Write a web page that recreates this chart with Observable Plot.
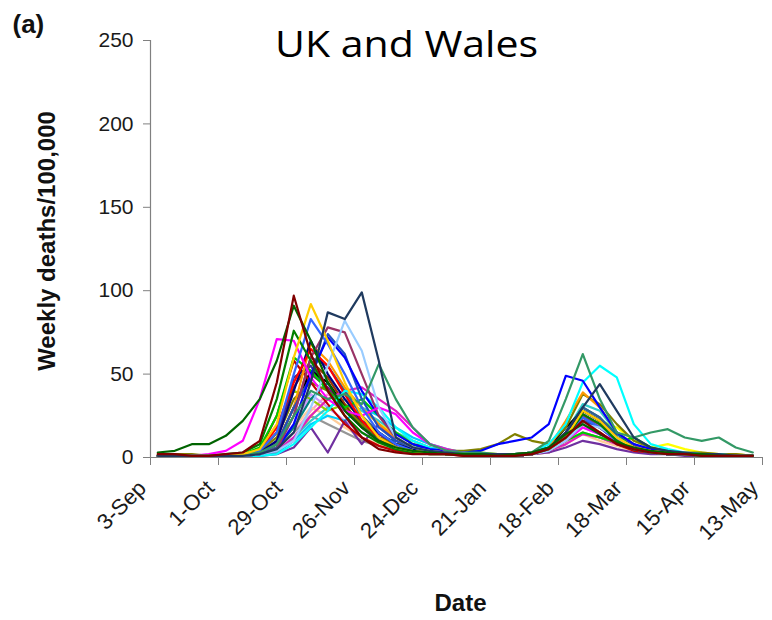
<!DOCTYPE html>
<html>
<head>
<meta charset="utf-8">
<script src="https://cdn.jsdelivr.net/npm/d3@7"></script>
<script src="https://cdn.jsdelivr.net/npm/@observablehq/plot@0.6"></script>
<style>
  body { margin: 0; background: #fff; }
</style>
</head>
<body>
<div id="chart"></div>
<script>
// Weekly data points (1918-1919)
const weeks = [
  "1918-09-06","1918-09-13","1918-09-20","1918-09-27","1918-10-04","1918-10-11",
  "1918-10-18","1918-10-25","1918-11-01","1918-11-08","1918-11-15","1918-11-22",
  "1918-11-29","1918-12-06","1918-12-13","1918-12-20","1918-12-27","1919-01-03",
  "1919-01-10","1919-01-17","1919-01-24","1919-01-31","1919-02-07","1919-02-14",
  "1919-02-21","1919-02-28","1919-03-07","1919-03-14","1919-03-21","1919-03-28",
  "1919-04-04","1919-04-11","1919-04-18","1919-04-25","1919-05-02","1919-05-09"
];

// Axis ticks
const tickDates = ["1918-09-03","1918-10-01","1918-10-29","1918-11-26","1918-12-24",
  "1919-01-21","1919-02-18","1919-03-18","1919-04-15","1919-05-13"];
const tickLabels = ["3-Sep","1-Oct","29-Oct","26-Nov","24-Dec","21-Jan","18-Feb","18-Mar","15-Apr","13-May"];
const yTicks = [0, 50, 100, 150, 200, 250];

// Series (one line per area)
const seriesNames = ["A","B","C","D","E","F","G","H","I","J","K","L","M","N","O","P","Q","R",
  "S","T","U","V","W","X","Y","Z","AA","AB","AC","AD","AE","AF","AG","AH","AI"];
const seriesColors = ["#FF99CC","#969696","#FFCC99","#CC99FF","#FFFF00","#00CCFF","#33CCCC","#99CC00",
  "#008080","#800080","#7030A0","#993300","#333399","#000000","#E020C0","#808000","#366092","#C00000",
  "#00CC00","#FF9900","#000080","#FF0000","#00FFFF","#2050C0","#0000FF","#993366","#FF00FF","#3366FF",
  "#99CCFF","#339966","#008000","#FFCC00","#1F3A5F","#006400","#800000"];

const sA  = [1,1,1,1,1,1,2,5,15,28,38,30,22,18,14,10,6,4,3,2,2,1,2,3,8,15,12,8,5,3,2,2,1,1,1,1];
const sB  = [1,1,1,1,1,1,2,5,15,25,20,15,10,7,5,4,3,2,2,2,1,1,2,3,8,15,12,8,5,3,2,2,1,1,1,1];
const sC  = [1,1,1,1,1,1,2,6,18,30,25,18,12,8,5,4,3,2,2,1,1,1,2,3,8,14,10,7,4,3,2,2,1,1,1,1];
const sD  = [1,1,1,1,1,1,2,6,20,38,30,22,15,10,6,4,3,2,2,1,1,1,2,4,10,18,14,8,5,3,2,2,1,1,1,1];
const sE  = [1,1,1,1,1,1,2,4,10,25,35,40,30,20,15,10,6,4,3,3,2,2,2,4,10,20,22,18,10,6,8,5,3,2,2,1];
const sF  = [1,1,1,1,1,1,1,3,10,20,25,22,30,25,18,12,8,5,3,2,2,1,2,5,12,25,20,12,6,3,2,2,1,1,1,1];
const sG  = [1,1,1,1,1,1,1,3,12,22,30,35,28,22,15,10,6,4,3,2,2,2,3,6,15,32,28,15,8,4,3,2,2,1,1,1];
const sH  = [1,1,1,1,1,2,4,15,40,35,28,32,25,15,8,5,3,2,2,1,1,1,2,4,10,22,18,12,6,4,2,2,1,1,1,1];
const sI  = [1,1,1,1,1,1,2,6,18,35,45,30,18,12,10,6,4,3,2,2,1,1,2,5,15,30,24,14,7,4,3,2,2,1,1,1];
const sJ  = [1,1,1,1,1,1,2,8,30,50,42,30,22,14,8,5,3,2,2,1,1,1,2,5,15,26,20,10,5,3,2,2,1,1,1,1];
const sK  = [1,1,1,1,1,1,1,2,6,18,3,22,8,20,10,6,4,3,2,2,1,1,2,3,6,10,8,5,3,2,2,1,1,1,1,1];
const sL  = [1,1,1,1,1,1,3,15,42,58,48,32,18,10,6,4,3,2,2,2,1,1,2,5,12,24,18,10,6,3,2,2,1,1,1,1];
const sM  = [1,1,1,1,1,1,2,10,48,55,40,28,18,10,6,4,3,2,2,1,1,1,2,5,12,25,20,10,5,3,2,2,1,1,1,1];
const sN  = [1,1,1,1,1,1,2,8,30,52,45,30,20,12,6,4,3,2,2,1,1,1,2,6,18,28,22,12,6,3,2,2,1,1,1,1];
const sO  = [1,1,1,1,1,1,2,4,12,25,35,40,42,35,28,18,8,5,3,2,2,1,2,4,8,14,12,8,5,3,2,2,1,1,1,1];
const sP  = [2,2,2,1,1,2,4,12,35,45,40,30,20,12,8,8,6,4,4,5,8,14,10,8,18,38,32,20,10,6,4,3,3,2,2,1];
const sQ  = [1,1,1,1,1,1,2,6,25,60,55,40,25,15,8,5,3,2,2,1,1,1,2,5,14,30,24,12,6,3,2,2,1,1,1,1];
const sR  = [1,1,1,1,1,2,5,25,58,45,32,20,12,7,4,3,2,2,1,1,1,1,2,4,10,20,15,8,4,3,2,2,1,1,1,1];
const sS  = [1,1,1,1,1,2,6,25,60,52,40,30,35,25,15,8,4,3,2,2,1,1,2,4,10,15,12,9,12,6,3,2,1,1,1,1];
const sT  = [1,1,1,1,1,1,2,8,30,68,58,42,30,20,12,6,4,3,2,2,1,1,2,6,22,39,30,15,8,4,3,2,2,1,1,1];
const sU  = [1,1,1,1,1,1,3,10,40,70,50,35,22,15,8,5,3,2,2,1,1,1,2,4,15,28,22,12,6,3,2,2,1,1,1,1];
const sV  = [1,1,1,1,1,2,4,18,45,65,55,38,22,12,6,4,3,2,2,1,1,1,2,5,12,22,18,10,5,3,2,2,1,1,1,1];
const sW  = [1,1,1,1,1,1,1,2,8,18,28,40,38,30,18,10,6,4,3,2,2,2,3,8,20,45,55,48,20,8,5,3,2,2,1,1];
const sX  = [1,1,1,1,1,1,2,8,30,48,74,62,35,18,10,6,4,3,2,2,1,1,2,4,12,22,18,10,5,3,2,2,1,1,1,1];
const sY  = [1,1,1,1,1,1,2,5,20,50,72,60,40,25,14,8,5,4,3,4,8,10,12,20,49,46,30,15,8,5,3,2,2,1,1,1];
const sZ  = [1,1,1,1,1,1,2,5,25,60,78,75,50,25,12,6,4,3,2,2,1,1,2,4,12,25,20,12,6,3,2,2,1,1,1,1];
const sAA = [1,1,1,2,4,10,35,71,70,48,35,28,25,30,26,15,8,4,3,2,1,1,2,4,10,18,14,10,6,4,3,2,2,1,1,1];
const sAB = [1,1,1,1,1,2,4,15,50,83,68,50,30,15,8,4,3,2,2,1,1,2,3,6,14,24,18,10,5,3,2,2,1,1,1,1];
const sAC = [1,1,1,1,1,1,2,4,10,30,55,82,64,30,12,6,4,3,2,2,1,1,2,4,10,20,18,12,6,3,2,2,1,1,1,1];
const sAD = [1,1,1,1,1,2,3,8,25,40,35,38,32,56,35,18,8,4,3,3,2,2,3,10,35,62,35,15,12,15,17,12,10,12,6,3];
const sAE = [1,1,1,1,2,3,8,35,76,58,40,25,15,9,5,3,2,2,2,1,1,1,2,5,12,26,20,10,5,3,2,2,1,1,1,1];
const sAF = [1,1,1,1,1,2,5,20,60,92,70,45,25,12,6,4,3,2,2,1,1,2,3,5,12,28,22,12,6,4,3,2,2,1,1,1];
const sAG = [1,1,1,1,1,1,2,5,15,45,87,83,99,58,12,6,4,3,2,2,2,2,3,6,15,30,44,28,12,6,4,3,2,2,1,1];
const sAH = [3,4,8,8,13,22,35,58,91,70,45,28,18,10,6,4,3,2,2,2,1,2,3,6,14,20,14,9,6,4,3,2,2,1,1,1];
const sAI = [2,2,1,1,2,3,10,45,97,62,40,25,12,5,3,2,2,2,1,1,1,1,2,5,12,22,15,8,5,3,2,2,1,1,1,1];

const seriesValues = [sA,sB,sC,sD,sE,sF,sG,sH,sI,sJ,sK,sL,sM,sN,sO,sP,sQ,sR,sS,sT,sU,sV,sW,sX,sY,sZ,
  sAA,sAB,sAC,sAD,sAE,sAF,sAG,sAH,sAI];

const data = [];
seriesNames.forEach((name, i) => {
  seriesValues[i].forEach((v, k) => {
    data.push({name, color: seriesColors[i], date: new Date(weeks[k]), value: v});
  });
});
const xTicks = tickDates.map((d, i) => ({date: new Date(d), label: tickLabels[i]}));
const x0 = new Date(tickDates[0]);
const x1 = new Date(tickDates[tickDates.length - 1]);

const chart = Plot.plot({
  width: 772,
  height: 620,
  marginTop: 40,
  marginBottom: 163,
  marginLeft: 150,
  marginRight: 10,
  style: {fontFamily: "'Liberation Sans', Arial, sans-serif", fontSize: "21px", color: "#1a1a1a", background: "#fff"},
  x: {type: "utc", domain: [x0, x1]},
  y: {domain: [0, 250]},
  color: {type: "identity"},
  marks: [
    Plot.line(data, {x: "date", y: "value", z: "name", stroke: "color", strokeWidth: 2.2}),
    Plot.ruleX([x0], {y1: 0, y2: 250, stroke: "#808080", strokeWidth: 1.2}),
    Plot.ruleY([0], {x1: x0, x2: x1, stroke: "#808080", strokeWidth: 1.2}),
    Plot.axisY(yTicks, {tickSize: 7, tickPadding: 10, stroke: "#808080", fill: "#1a1a1a", label: null, fontSize: 21}),
    Plot.axisX(xTicks.map(d => d.date), {tickSize: 8, tickFormat: () => "", stroke: "#808080", label: null}),
    Plot.text(xTicks, {x: "date", text: "label", frameAnchor: "bottom", rotate: -45,
      textAnchor: "end", lineAnchor: "middle", dx: -8, dy: 27, fontSize: 22, fill: "#1a1a1a"}),
    Plot.text(["UK and Wales"], {frameAnchor: "top-left", dx: 256, dy: 5, textAnchor: "middle",
      lineAnchor: "middle", fontSize: 36, fontFamily: "'Open Sans', Lato, sans-serif", fill: "#000",
      className: "ttl"}),
    Plot.text(["(a)"], {frameAnchor: "top-left", dx: -138, dy: -16, textAnchor: "start",
      lineAnchor: "middle", fontSize: 26, fontWeight: "bold", fill: "#111"}),
    Plot.text(["Weekly deaths/100,000"], {frameAnchor: "left", dx: -103, dy: -8, rotate: -90,
      textAnchor: "middle", lineAnchor: "middle", fontSize: 24, fontWeight: "bold", fill: "#111"}),
    Plot.text(["Date"], {frameAnchor: "bottom", dx: 4, dy: 146, textAnchor: "middle",
      lineAnchor: "middle", fontSize: 24, fontWeight: "bold", fill: "#111"})
  ]
});
// Stretch the title to the reference width
d3.select(chart).selectAll(".ttl text").attr("textLength", 263).attr("lengthAdjust", "spacingAndGlyphs");
document.getElementById("chart").appendChild(chart);
</script>
</body>
</html>
